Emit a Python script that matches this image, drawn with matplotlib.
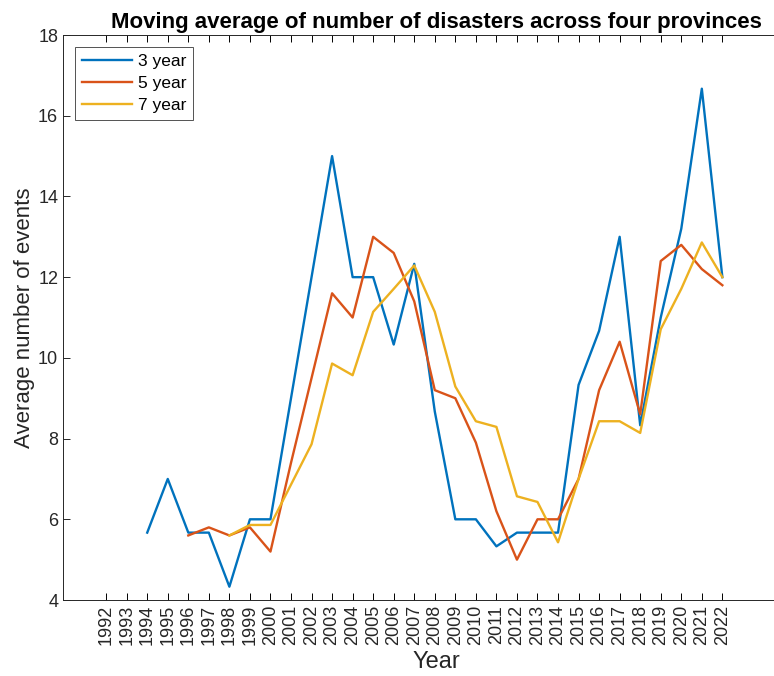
import numpy as np
import matplotlib
matplotlib.use('Agg')
import matplotlib.pyplot as plt

plt.rcParams['font.family'] = ['Liberation Sans', 'DejaVu Sans']

# moving averages
years_3 = list(range(1994, 2023))
avg_3 = [5.67, 7.0, 5.67, 5.67, 4.33, 6.0, 6.0, 9.0, 12.0, 15.0, 12.0, 12.0, 10.33, 12.33,
         8.67, 6.0, 6.0, 5.33, 5.67, 5.67, 5.67, 9.33, 10.67, 13.0, 8.33, 11.0, 13.2, 16.67, 12.0]

years_5 = list(range(1996, 2023))
avg_5 = [5.6, 5.8, 5.6, 5.8, 5.2, 7.4, 9.5, 11.6, 11.0, 13.0, 12.6, 11.4, 9.2, 9.0,
         7.9, 6.2, 5.0, 6.0, 6.0, 7.0, 9.2, 10.4, 8.6, 12.4, 12.8, 12.2, 11.8]

years_7 = list(range(1998, 2023))
avg_7 = [5.6, 5.86, 5.86, 6.86, 7.86, 9.86, 9.57, 11.14, 11.71, 12.29, 11.14, 9.29,
         8.43, 8.29, 6.57, 6.43, 5.43, 7.0, 8.43, 8.43, 8.14, 10.71, 11.71, 12.86, 12.0]

tick_years = list(range(1992, 2023))

fig = plt.figure(figsize=(7.74, 6.76), dpi=100)
# the original axes runs past the right edge of the image (cropped)
ax = fig.add_axes([0.0814, 0.1124, 0.966, 0.8358])

ax.plot(years_3, avg_3, color='#0072BD', lw=1.7, label='3 year')
ax.plot(years_5, avg_5, color='#D95319', lw=1.7, label='5 year')
ax.plot(years_7, avg_7, color='#EDB120', lw=1.7, label='7 year')

ax.set_xlim(1989.9, 2026.3)
ax.set_ylim(4, 18)
ax.set_yticks(range(4, 19, 2))
ax.set_xticks(tick_years)
ax.set_xticklabels([str(y) for y in tick_years], rotation=90, fontsize=13, color='#262626')
ax.tick_params(axis='y', labelsize=13, colors='#262626')
ax.tick_params(direction='in', top=True, right=True, length=5, width=0.7)
for s in ax.spines.values():
    s.set_color('#262626')
    s.set_linewidth(0.7)

ax.set_xlabel('Year', fontsize=17, color='#262626', labelpad=4)
ax.set_ylabel('Average number of events', fontsize=16, color='#262626', labelpad=2)
ax.set_title('Moving average of number of disasters across four provinces',
             fontsize=16, fontweight='bold', pad=5)

leg = ax.legend(loc='upper left', fontsize=12.5, frameon=True, fancybox=False,
                edgecolor='#262626', handlelength=2.9, borderaxespad=0.7,
                labelspacing=0.4, borderpad=0.4, handletextpad=0.3)
leg.get_frame().set_linewidth(0.7)

fig.savefig('out.png', dpi=100)
